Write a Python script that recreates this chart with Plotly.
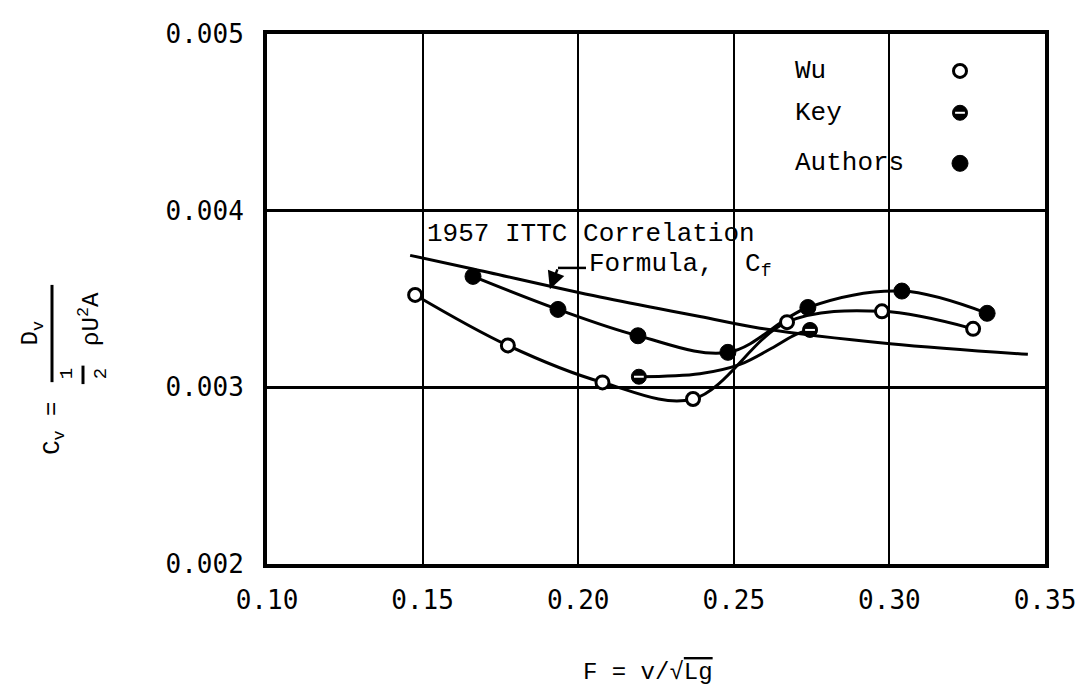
import plotly.graph_objects as go

# ---------------- data ----------------
wu_x = [0.1476, 0.1774, 0.2078, 0.2369, 0.2671, 0.2976, 0.3269]
wu_y = [0.003523, 0.003237, 0.003028, 0.002934, 0.003369, 0.003430, 0.003331]

key_x = [0.2195, 0.2745]
key_y = [0.003060, 0.003325]
key_curve_x = [0.2195, 0.2391, 0.2520, 0.2620, 0.2700, 0.2745]
key_curve_y = [0.003060, 0.003077, 0.003130, 0.003220, 0.003300, 0.003325]

authors_x = [0.1662, 0.1935, 0.2192, 0.2481, 0.2738, 0.3040, 0.3314]
authors_y = [0.003628, 0.003441, 0.003292, 0.003198, 0.003452, 0.003545, 0.003419]

ittc_x = [0.1460, 0.1662, 0.2070, 0.2391, 0.2584, 0.3002, 0.3445]
ittc_y = [0.003747, 0.003670, 0.003511, 0.003401, 0.003335, 0.003247, 0.003187]

x_ticks = [0.10, 0.15, 0.20, 0.25, 0.30, 0.35]
x_tick_text = ["0.10", "0.15", "0.20", "0.25", "0.30", "0.35"]
y_ticks = [0.002, 0.003, 0.004, 0.005]
y_tick_text = ["0.002", "0.003", "0.004", "0.005"]

legend_names = ["Wu", "Key", "Authors"]

# ---------------- styling ----------------
MONO = "Liberation Mono"
TICKF = "DejaVu Sans Mono"
LW = 3
TXT = 26

# page body has an 8px margin: figure is drawn 8px right/down in the window
OFF = 8
FIG_W, FIG_H = 1088 - OFF, 694 - OFF
PL, PR, PT, PB = 267, 1045, 19, 564          # plot area in window pixels

fig = go.Figure()

line_style = dict(color="black", width=LW, shape="spline", smoothing=1.0)

fig.add_trace(go.Scatter(x=ittc_x, y=ittc_y, mode="lines", line=line_style, hoverinfo="skip"))
fig.add_trace(go.Scatter(x=wu_x, y=wu_y, mode="lines", line=line_style, hoverinfo="skip"))
fig.add_trace(go.Scatter(x=key_curve_x, y=key_curve_y, mode="lines", line=line_style, hoverinfo="skip"))
fig.add_trace(go.Scatter(x=authors_x, y=authors_y, mode="lines", line=line_style, hoverinfo="skip"))

open_marker = dict(symbol="circle", size=13, color="white", line=dict(color="black", width=3))
full_marker = dict(symbol="circle", size=16, color="black", line=dict(color="black", width=1))
key_marker = dict(symbol="circle", size=15, color="black", line=dict(color="black", width=1))
key_dash = dict(symbol="line-ew", size=7, line=dict(color="white", width=2))

fig.add_trace(go.Scatter(x=wu_x, y=wu_y, mode="markers", marker=open_marker, name="Wu"))
fig.add_trace(go.Scatter(x=key_x, y=key_y, mode="markers", marker=key_marker, name="Key"))
fig.add_trace(go.Scatter(x=key_x, y=key_y, mode="markers", marker=key_dash, hoverinfo="skip"))
fig.add_trace(go.Scatter(x=authors_x, y=authors_y, mode="markers", marker=full_marker, name="Authors"))


def px_to_paper(px, py):
    return (px - PL) / float(PR - PL), (PB - py) / float(PB - PT)


# legend keys drawn on an invisible overlay axis (0..1 over the plot area)
leg_text_px = 793
leg_mark_px = 960
leg_rows_py = [57, 100, 152]
leg_markers = [open_marker, key_marker, full_marker]
for name, py, mk in zip(legend_names, leg_rows_py, leg_markers):
    tx, ty = px_to_paper(leg_text_px, py)
    mx, _ = px_to_paper(leg_mark_px, py)
    fig.add_trace(go.Scatter(x=[mx], y=[ty], mode="markers", marker=mk,
                             xaxis="x2", yaxis="y2", hoverinfo="skip"))
    if name == "Key":
        fig.add_trace(go.Scatter(x=[mx], y=[ty], mode="markers", marker=key_dash,
                                 xaxis="x2", yaxis="y2", hoverinfo="skip"))
    fig.add_annotation(text=name, x=tx, y=ty, xref="paper", yref="paper",
                       xanchor="left", yanchor="middle", showarrow=False,
                       font=dict(family=MONO, size=TXT, color="black"))

# ITTC annotation
fig.add_annotation(text="1957 ITTC Correlation", x=0.1508, y=0.003868, xref="x", yref="y",
                   xanchor="left", yanchor="middle", showarrow=False,
                   font=dict(family=MONO, size=TXT, color="black"))
fig.add_annotation(text="Formula,  C<sub>f</sub>", x=0.2028, y=0.003692, xref="x", yref="y",
                   xanchor="left", yanchor="middle", showarrow=False,
                   font=dict(family=MONO, size=TXT, color="black"))
fig.add_shape(type="line", x0=0.1935, y0=0.003676, x1=0.2025, y1=0.003676,
              xref="x", yref="y", line=dict(color="black", width=2.5))
fig.add_annotation(text="", x=0.1909, y=0.003555, ax=0.1935, ay=0.003676,
                   xref="x", yref="y", axref="x", ayref="y", showarrow=True,
                   arrowhead=2, arrowsize=1.4, arrowwidth=2.5, arrowcolor="black")

# Y axis label: C_v = D_v / (1/2 rho U^2 A)
lab_font = dict(family=MONO, size=24, color="black")


def rot_label(text, px, py, font):
    ax_, ay_ = px_to_paper(px, py)
    fig.add_annotation(text=text, x=ax_, y=ay_, xref="paper", yref="paper",
                       xanchor="center", yanchor="middle", textangle=-90,
                       showarrow=False, font=font)


rot_label("C<sub>v</sub> =", 54, 425, lab_font)
xb, yb0 = px_to_paper(52, 377)
_, yb1 = px_to_paper(52, 277)
fig.add_shape(type="line", x0=xb, x1=xb, y0=yb0, y1=yb1, xref="paper", yref="paper",
              line=dict(color="black", width=3))
rot_label("D<sub>v</sub>", 32, 327, lab_font)
rot_label("\u03c1U<sup>2</sup>A", 90, 312, lab_font)
small_font = dict(family=MONO, size=19, color="black")
rot_label("1", 67, 369, small_font)
rot_label("2", 101, 369, small_font)
xs, ys0 = px_to_paper(83, 379)
_, ys1 = px_to_paper(83, 360)
fig.add_shape(type="line", x0=xs, x1=xs, y0=ys0, y1=ys1, xref="paper", yref="paper",
              line=dict(color="black", width=3))

# X axis label
xl, yl = px_to_paper(648, 676)
fig.add_annotation(text="F = v/\u221a<span style='text-decoration:overline'>Lg</span>",
                   x=xl, y=yl, xref="paper", yref="paper", showarrow=False,
                   xanchor="center", yanchor="middle",
                   font=dict(family=MONO, size=24, color="black"))

fig.update_layout(
    width=FIG_W, height=FIG_H,
    margin=dict(l=PL - OFF, r=1088 - PR, t=PT - OFF, b=694 - PB),
    paper_bgcolor="white", plot_bgcolor="white",
    showlegend=False,
    xaxis=dict(range=[0.10, 0.35], tickvals=x_ticks, ticktext=x_tick_text,
               showgrid=True, gridcolor="black", gridwidth=2,
               showline=True, linecolor="black", linewidth=4, mirror=True,
               zeroline=False, ticks="", ticklabelstandoff=10,
               tickfont=dict(family=TICKF, size=26, color="black")),
    yaxis=dict(range=[0.002, 0.005], tickvals=y_ticks, ticktext=y_tick_text,
               showgrid=True, gridcolor="black", gridwidth=3,
               showline=True, linecolor="black", linewidth=4, mirror=True,
               zeroline=False, ticks="", ticklabelstandoff=14,
               tickfont=dict(family=TICKF, size=26, color="black")),
    xaxis2=dict(range=[0, 1], overlaying="x", visible=False),
    yaxis2=dict(range=[0, 1], overlaying="y", visible=False),
)

fig.write_html("out.html")
